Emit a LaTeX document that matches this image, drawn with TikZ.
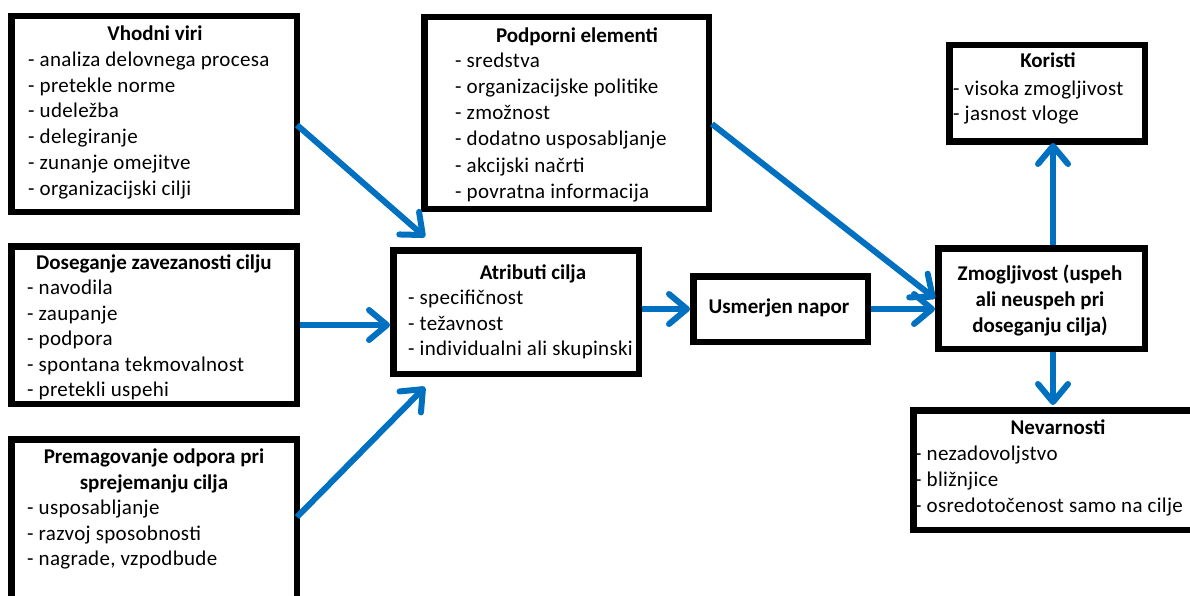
\documentclass[tikz,border=0pt]{standalone}
\usepackage{fontspec}
\setmainfont{Carlito}[LetterSpace=1.5, BoldFeatures={LetterSpace=0}]
\usetikzlibrary{arrows.meta,calc}
\definecolor{arrblue}{RGB}{0,112,192}
\begin{document}
\begin{tikzpicture}[x=1pt,y=-1pt,
 box/.style={draw=black, line width=6.5pt, rectangle, inner sep=0pt, fill=white},
 itm/.style={anchor=base west, inner sep=0pt, font=\fontsize{21}{25.6}\selectfont},
 ttl/.style={anchor=base, inner sep=0pt, font=\fontsize{21}{25.6}\selectfont\bfseries},
 arr/.style={draw=arrblue, line width=6pt, -{Straight Barb[length=18pt,width=30pt,round]}}]
\useasboundingbox (0,0) rectangle (1190,596);
\clip (0,0) rectangle (1190,596);
\fill[white] (0,0) rectangle (1190,596);

% boxes
\node[box, minimum width=285.5pt, minimum height=195.5pt] (vhodni) at (154,114) {};
\node[box, minimum width=285.5pt, minimum height=157.5pt] (doseg) at (154,325) {};
\node[box, minimum width=285.5pt, minimum height=187.5pt] (premag) at (154,533) {};
\node[box, minimum width=245.5pt, minimum height=123.5pt] (atrib) at (516,312) {};
\node[box, minimum width=174.5pt, minimum height=65.5pt] (usmer) at (780.5,309) {};
\node[box, minimum width=284.5pt, minimum height=191.5pt] (podpor) at (566.5,113) {};
\node[box, minimum width=195.5pt, minimum height=96.5pt] (koristi) at (1047,93.5) {};
\node[box, minimum width=206.5pt, minimum height=100.5pt] (zmog) at (1041.5,298.5) {};
\node[box, minimum width=303.5pt, minimum height=119.5pt] (nevar) at (1065,470) {};

% Vhodni viri
\node[ttl] (vh0) at (155,41) {Vhodni viri};
\node[itm] (vh1) at (28,66.5) {- analiza delovnega procesa};
\node[itm] (vh2) at (28,92.2) {- pretekle norme};
\node[itm] (vh3) at (28,117.9) {- udeležba};
\node[itm] (vh4) at (28,143.6) {- delegiranje};
\node[itm] (vh5) at (28,169.3) {- zunanje omejitve};
\node[itm] (vh6) at (28,195) {- organizacijski cilji};

% Doseganje
\node[ttl] (do0) at (154,269) {Doseganje zavezanosti cilju};
\node[itm] (do1) at (27,294.5) {- navodila};
\node[itm] (do2) at (27,320) {- zaupanje};
\node[itm] (do3) at (27,345.5) {- podpora};
\node[itm] (do4) at (27,371) {- spontana tekmovalnost};
\node[itm] (do5) at (27,396.5) {- pretekli uspehi};

% Premagovanje
\node[ttl] (pr0) at (154,463) {Premagovanje odpora pri};
\node[ttl] (pr1) at (154,489) {sprejemanju cilja};
\node[itm] (pr2) at (27,514.5) {- usposabljanje};
\node[itm] (pr3) at (27,540) {- razvoj sposobnosti};
\node[itm] (pr4) at (27,565.5) {- nagrade, vzpodbude};

% Atributi
\node[ttl] (at0) at (533,279) {Atributi cilja};
\node[itm] (at1) at (408,304.5) {- specifičnost};
\node[itm] (at2) at (408,330) {- težavnost};
\node[itm] (at3) at (408,355.5) {- individualni ali skupinski};

% Usmerjen
\node[ttl] (us0) at (779,313) {Usmerjen napor};

% Podporni
\node[ttl] (po0) at (577,43) {Podporni elementi};
\node[itm] (po1) at (455,68) {- sredstva};
\node[itm] (po2) at (455,94) {- organizacijske politike};
\node[itm] (po3) at (455,120) {- zmožnost};
\node[itm] (po4) at (455,146) {- dodatno usposabljanje};
\node[itm] (po5) at (455,172) {- akcijski načrti};
\node[itm] (po6) at (455,198) {- povratna informacija};

% Koristi
\node[ttl] (ko0) at (1048,68) {Koristi};
\node[itm] (ko1) at (953,96) {- visoka zmogljivost};
\node[itm] (ko2) at (953,121) {- jasnost vloge};

% Zmogljivost
\node[ttl] (zm0) at (1040,280) {Zmogljivost (uspeh};
\node[ttl] (zm1) at (1040,306) {ali neuspeh pri};
\node[ttl] (zm2) at (1040,332) {doseganju cilja)};

% Nevarnosti
\node[ttl] (ne0) at (1058,434) {Nevarnosti};
\node[itm] (ne1) at (915,460) {- nezadovoljstvo};
\node[itm] (ne2) at (915,486) {- bližnjice};
\node[itm] (ne3) at (915,512) {- osredotočenost samo na cilje};

% arrows
\draw[arr] ($(vhodni.north east)+(-3,112)$) -- ($(atrib.north west)+(35,-10)$);
\draw[arr] (doseg.east) -- (atrib.west |- doseg.east);
\draw[arr] ($(premag.north east)+(-3,81)$) -- ($(atrib.south west)+(35,10)$);
\draw[arr] (atrib.east |- usmer.west) -- (usmer.west);
\draw[arr] (usmer.east) -- (zmog.west |- usmer.east);
\draw[arr] ($(podpor.north east)+(0,110)$) -- (zmog.west);
\draw[arr] ($(zmog.north)+(11.5,0)$) -- ($(koristi.south)+(6,-2)$);
\draw[arr] ($(zmog.south)+(11.5,0)$) -- ($(nevar.north -| zmog.south)+(11.5,-2)$);
\end{tikzpicture}
\end{document}
